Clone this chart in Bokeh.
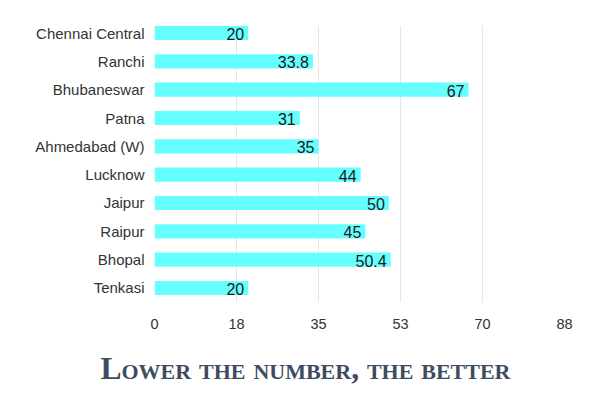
from bokeh.plotting import figure
from bokeh.models import Range1d, FixedTicker, ColumnDataSource, Div
from bokeh.layouts import column
from bokeh.embed import file_html
from bokeh.resources import INLINE
from bokeh.core.properties import value

stations = ["Chennai Central", "Ranchi", "Bhubaneswar", "Patna", "Ahmedabad (W)",
            "Lucknow", "Jaipur", "Raipur", "Bhopal", "Tenkasi"]
values = [20, 33.8, 67, 31, 35, 44, 50, 45, 50.4, 20]
labels = ["20", "33.8", "67", "31", "35", "44", "50", "45", "50.4", "20"]
x_ticks = [0, 17.5, 35, 52.5, 70, 87.5]
x_tick_labels = ["0", "18", "35", "53", "70", "88"]
title_text = "Lower the number, the better"

n = len(stations)
ypos = [n - 1 - i for i in range(n)]
src = ColumnDataSource(dict(y=ypos, v=values, lab=labels, name=stations))

p = figure(width=585, height=353, output_backend="svg", toolbar_location=None,
           x_range=Range1d(0, 87.5), y_range=Range1d(-0.512, n - 1 + 0.265),
           min_border_left=154, min_border_right=21, min_border_top=25, min_border_bottom=51)
p.outline_line_color = None
p.background_fill_color = "white"

p.hbar(y="y", right="v", left=0, height=0.5, source=src, fill_color="#66ffff", line_color=None)
p.text(x="v", y="y", text="lab", source=src, text_align="right", text_baseline="middle",
       x_offset=-4, y_offset=1, text_font=value("Liberation Sans"), text_font_size="16px",
       text_color="#1a1a1a")

p.xaxis.ticker = FixedTicker(ticks=x_ticks)
p.xaxis.major_label_overrides = {t: l for t, l in zip(x_ticks, x_tick_labels)}
p.yaxis.ticker = FixedTicker(ticks=ypos)
p.yaxis.major_label_overrides = {y: s for y, s in zip(ypos, stations)}
for ax in (p.xaxis[0], p.yaxis[0]):
    ax.axis_line_color = None
    ax.major_tick_line_color = None
    ax.minor_tick_line_color = None
    ax.major_label_text_font = "Liberation Sans"
    ax.major_label_text_color = "#333333"
p.xaxis.major_label_text_font_size = "14.5px"
p.yaxis.major_label_text_font_size = "15px"
p.xaxis.major_label_standoff = 10
p.yaxis.major_label_standoff = 4

p.xgrid.grid_line_color = "#e6e6e6"
p.xgrid.grid_line_width = 1
p.ygrid.grid_line_color = None

div = Div(text=title_text, width=585, height=38, margin=(0, 0, 0, 0),
          styles={"font-family": "Liberation Serif", "font-weight": "bold",
                  "font-variant": "small-caps", "font-size": "31.5px",
                  "color": "#3e4c60", "text-align": "center", "width": "585px",
                  "padding-left": "26px", "padding-top": "0px", "box-sizing": "border-box",
                  "line-height": "normal", "position": "relative", "top": "-2px"})

layout = column(p, div, spacing=0)
open("out.html", "w").write(file_html(layout, INLINE))
